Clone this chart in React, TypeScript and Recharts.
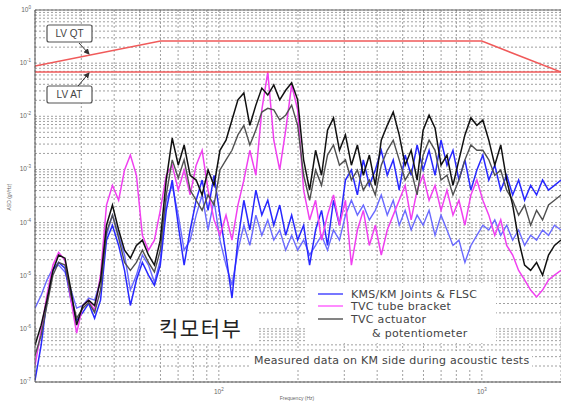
import React from "react";
import { LineChart, Line, XAxis, YAxis, CartesianGrid, ReferenceLine } from "recharts";

// Frequency grid (Hz)
const freqHz = [
  20, 21.1, 22.2, 23.4, 24.6, 26, 27.4, 28.8, 30.4, 32,
  33.7, 35.5, 37.4, 39.4, 41.6, 43.8, 46.1, 48.6, 51.2, 54,
  56.9, 59.9, 63.1, 66.5, 70.1, 73.8, 77.8, 82, 86.4, 91,
  95.9, 101, 106.5, 112.2, 118.2, 124.5, 131.2, 138.3, 145.7, 153.5,
  161.8, 170.4, 179.6, 189.2, 199.4, 210.1, 221.4, 233.3, 245.8, 259,
  272.9, 287.5, 303, 319.2, 336.4, 354.4, 373.5, 393.5, 414.6, 436.9,
  460.4, 485.1, 511.1, 538.6, 567.5, 598, 630.1, 663.9, 699.6, 737.1,
  776.7, 818.4, 862.4, 908.7, 957.5, 1009, 1063, 1120, 1180, 1243,
  1310, 1380, 1454, 1533, 1615, 1702, 1793, 1889, 2000,
];

// log10 of ASD (g^2/Hz)
const kmsJointsA = [
  -6.97, -6.31, -5.46, -4.9, -4.75, -4.86, -5.46, -5.84, -5.69, -5.52,
  -5.8, -5.46, -4.33, -4.05, -4.43, -4.9, -5.56, -5.08, -4.75, -4.99,
  -5.18, -4.8, -3.77, -3.2, -4.05, -4.8, -4.14, -3.58, -3.2, -3.77,
  -3.11, -3.86, -4.61, -5.42, -4.33, -3.58, -4.14, -3.39, -3.86, -3.58,
  -4.05, -3.67, -4.24, -3.86, -4.33, -4.05, -4.8, -4.14, -3.77, -4.43,
  -3.58, -4.05, -3.2, -3.01, -3.48, -2.82, -3.3, -3.01, -2.64, -3.11,
  -2.82, -3.39, -2.73, -3.11, -2.54, -3.01, -2.64, -3.11, -2.45, -2.92,
  -2.64, -3.2, -2.82, -3.39, -3.01, -2.73, -3.2, -2.92, -3.39, -3.11,
  -3.48, -3.2, -3.58, -3.3, -3.48, -3.2, -3.39, -3.3, -3.2,
];
const kmsJointsB = [
  -5.61, -5.37, -5.08, -4.86, -4.8, -4.93, -5.27, -5.61, -5.56, -5.42,
  -5.46, -5.08, -4.24, -3.86, -4.24, -4.61, -5.27, -4.99, -4.61, -4.8,
  -5.12, -4.71, -3.58, -3.3, -3.86, -4.52, -4.33, -3.86, -3.48, -4.14,
  -3.58, -4.33, -4.8, -5.18, -4.52, -4.05, -4.43, -3.86, -4.24, -3.95,
  -4.33, -4.14, -4.52, -4.24, -4.52, -4.33, -4.61, -4.43, -4.24, -4.52,
  -4.14, -4.33, -3.86, -3.58, -3.86, -3.67, -3.95, -3.77, -3.48, -3.86,
  -3.58, -4.05, -3.77, -4.14, -3.86, -4.05, -3.77, -4.24, -3.86, -4.14,
  -4.43, -4.33, -4.75, -4.43, -4.24, -4.05, -4.14, -3.95, -4.24, -4.05,
  -4.33, -4.14, -4.43, -4.24, -4.33, -4.14, -4.24, -4.05, -4.14,
];
const tvcBracket = [
  -6.69, -6.03, -5.37, -4.8, -4.56, -4.71, -5.46, -6.08, -5.56, -5.46,
  -5.65, -4.99, -3.67, -3.3, -3.58, -3.01, -2.73, -3.11, -4.24, -4.52,
  -4.33, -3.77, -3.11, -2.92, -3.39, -3.01, -3.48, -2.92, -2.64, -3.39,
  -3.95, -4.24, -3.86, -4.33, -3.67, -3.2, -2.64, -3.11, -1.88, -1.17,
  -2.45, -3.01, -2.26, -1.41, -1.88, -3.39, -3.95, -3.58, -4.33, -3.86,
  -3.48, -4.05, -3.58, -4.8, -4.14, -3.77, -4.43, -4.05, -4.61, -4.14,
  -3.86, -3.58, -3.3, -3.95, -3.39, -3.11, -3.58, -3.3, -3.77, -3.39,
  -3.86, -3.58, -4.05, -3.48, -3.2, -3.58, -3.86, -4.24, -3.95, -4.43,
  -4.61, -4.9, -5.08, -5.27, -5.4, -5.27, -5.08, -4.99, -4.9,
];
const tvcActuatorA = [
  -6.31, -5.93, -5.46, -4.9, -4.61, -4.67, -5.27, -5.93, -5.56, -5.46,
  -5.56, -5.08, -4.05, -3.67, -4.14, -4.52, -4.67, -4.43, -4.33, -4.61,
  -4.8, -4.33, -3.2, -2.41, -2.92, -2.54, -3.11, -3.2, -3.48, -3.01,
  -3.3, -2.64, -2.45, -2.07, -1.69, -1.56, -2.17, -1.79, -1.47, -1.6,
  -1.41, -1.69, -1.51, -1.37, -1.69, -2.82, -3.39, -2.64, -3.11, -2.26,
  -2.03, -2.64, -2.35, -2.92, -2.54, -3.11, -2.73, -3.3, -2.45, -2.17,
  -1.92, -2.35, -2.92, -2.64, -3.2, -2.26, -1.98, -2.22, -2.92, -2.73,
  -3.3, -2.82, -2.35, -2.03, -2.17, -2.07, -2.45, -2.92, -2.54, -3.2,
  -3.67, -4.33, -4.8, -4.9, -4.75, -4.99, -4.61, -4.43, -4.33,
];
const tvcActuatorB = [
  -6.5, -6.12, -5.56, -4.99, -4.75, -4.8, -5.37, -5.8, -5.61, -5.5,
  -5.69, -5.27, -4.18, -3.86, -4.29, -4.75, -4.9, -4.75, -4.52, -4.75,
  -4.93, -4.52, -3.48, -2.82, -3.16, -2.82, -3.39, -3.58, -3.77, -3.48,
  -3.67, -3.01, -2.82, -2.64, -2.35, -2.17, -2.54, -2.26, -1.92, -1.85,
  -1.88, -2.07, -1.98, -1.79, -2.17, -3.11, -3.58, -3.01, -3.3, -2.73,
  -2.54, -2.92, -2.82, -3.2, -3.01, -3.39, -3.2, -3.48, -2.92, -2.64,
  -2.45, -2.82, -3.2, -3.01, -3.48, -2.73, -2.45, -2.64, -3.2, -3.11,
  -3.48, -3.2, -2.82, -2.54, -2.64, -2.64, -2.82, -3.11, -3.01, -3.39,
  -3.58, -3.86, -3.67, -4.05, -3.77, -3.95, -3.67, -3.58, -3.48,
];

// Launch-vehicle levels (g^2/Hz)
const lvQtFreq = [20, 60, 1000, 2000];
const lvQtLevel = [0.088, 0.26, 0.26, 0.068];
const lvAtFreq = [20, 2000];
const lvAtLevel = [0.068, 0.068];

// Axis decades
const yDecades = [-7, -6, -5, -4, -3, -2, -1, 0];
const xDecadeBases = [10, 100, 1000];
const xLabelledTicks = [100, 1000];

const rows = freqHz.map((f, i) => ({
  f,
  b1: Math.pow(10, kmsJointsA[i]),
  b2: Math.pow(10, kmsJointsB[i]),
  p1: Math.pow(10, tvcBracket[i]),
  k1: Math.pow(10, tvcActuatorA[i]),
  k2: Math.pow(10, tvcActuatorB[i]),
}));
const lvQt = lvQtFreq.map((f, i) => ({ f, v: lvQtLevel[i] }));
const lvAt = lvAtFreq.map((f, i) => ({ f, v: lvAtLevel[i] }));

const yTicks: number[] = [];
yDecades.forEach((e) => {
  if (e === 0) { yTicks.push(1); return; }
  for (let m = 1; m <= 9; m++) yTicks.push(parseFloat((m * Math.pow(10, e)).toPrecision(3)));
});
const xTicks: number[] = [];
xDecadeBases.forEach((d) => {
  for (let m = 1; m <= 9; m++) {
    const v = m * d;
    if (v >= 20 && v <= 2000) xTicks.push(v);
  }
});

const isDecade = (v: number) => Math.abs(Math.log10(v) - Math.round(Math.log10(v))) < 1e-6;

const YTick = (props: any) => {
  const { x, y, payload } = props;
  const v = payload.value;
  if (!isDecade(v)) return <g />;
  const e = Math.round(Math.log10(v));
  return (
    <text x={x} y={y + 2} textAnchor="end" fontSize={6.5} fill="#666" fontFamily="Liberation Sans, Arial, sans-serif">
      10<tspan dy={-3} fontSize={4.5}>{e}</tspan>
    </text>
  );
};
const XTick = (props: any) => {
  const { x, y, payload } = props;
  const v = payload.value;
  if (!xLabelledTicks.includes(v)) return <g />;
  const e = Math.round(Math.log10(v));
  return (
    <text x={x} y={y + 6} textAnchor="middle" fontSize={6.5} fill="#666" fontFamily="Liberation Sans, Arial, sans-serif">
      10<tspan dy={-3} fontSize={4.5}>{e}</tspan>
    </text>
  );
};

const font = "Liberation Sans, Arial, sans-serif";
const wide = "DejaVu Sans, Verdana, sans-serif";

export default function App() {
  return (
    <div style={{ position: "absolute", left: 0, top: 0, width: 561, height: 403, background: "#fff" }}>
      <LineChart width={561} height={403} data={rows} margin={{ top: 10, right: 0, left: 10, bottom: 6 }}>
        <CartesianGrid stroke="#808080" strokeDasharray="2 2" strokeWidth={0.75} />
        <XAxis
          dataKey="f"
          type="number"
          scale="log"
          domain={[20, 2000]}
          ticks={xTicks}
          allowDataOverflow
          height={15}
          tickLine={false}
          tickSize={0}
          tickMargin={6}
          tick={<XTick />}
          stroke="#555"
          interval={0}
        />
        <YAxis
          type="number"
          scale="log"
          domain={[1e-7, 1]}
          ticks={yTicks}
          allowDataOverflow
          width={25}
          tickLine={false}
          tickSize={0}
          tickMargin={4}
          tick={<YTick />}
          stroke="#555"
          interval={0}
        />
        <ReferenceLine y={1} stroke="#666" strokeWidth={1} />
        <Line dataKey="b2" stroke="#6a6aff" strokeWidth={1.4} dot={false} isAnimationActive={false} />
        <Line dataKey="b1" stroke="#2828ff" strokeWidth={1.5} dot={false} isAnimationActive={false} />
        <Line dataKey="p1" stroke="#f040f0" strokeWidth={1.5} dot={false} isAnimationActive={false} />
        <Line dataKey="k2" stroke="#505050" strokeWidth={1.4} dot={false} isAnimationActive={false} />
        <Line dataKey="k1" stroke="#111111" strokeWidth={1.5} dot={false} isAnimationActive={false} />
        <Line data={lvQt} dataKey="v" stroke="#f05a5a" strokeWidth={1.5} dot={false} isAnimationActive={false} />
        <Line data={lvAt} dataKey="v" stroke="#f05a5a" strokeWidth={1.5} dot={false} isAnimationActive={false} />
      </LineChart>
      <svg width={561} height={403} style={{ position: "absolute", left: 0, top: 0, pointerEvents: "none" }}>
        <defs>
          <marker id="ah" markerWidth="6" markerHeight="6" refX="5" refY="3" orient="auto">
            <path d="M0,0 L6,3 L0,6 Z" fill="#333" />
          </marker>
        </defs>
        {/* LV QT */}
        <rect x={47} y={25} width={45} height={17} rx={2} fill="#fff" stroke="#555" strokeWidth={1.2} />
        <text x={69.5} y={37} textAnchor="middle" fontSize={10} fill="#444" fontFamily={font}>LV QT</text>
        <line x1={79} y1={43} x2={89} y2={54} stroke="#333" strokeWidth={1} markerEnd="url(#ah)" />
        {/* LV AT */}
        <rect x={47} y={86} width={45} height={17} rx={2} fill="#fff" stroke="#555" strokeWidth={1.2} />
        <text x={69.5} y={98} textAnchor="middle" fontSize={10} fill="#444" fontFamily={font}>LV AT</text>
        <line x1={78} y1={86} x2={89} y2={73} stroke="#333" strokeWidth={1} markerEnd="url(#ah)" />
        {/* axis titles */}
        <text x={11} y={197} transform="rotate(-90 11 197)" textAnchor="middle" fontSize={5} fill="#666" fontFamily={font}>ASD (g²/Hz)</text>
        <text x={297} y={400} textAnchor="middle" fontSize={5} fill="#666" fontFamily={font}>Frequency (Hz)</text>
        {/* Korean label */}
        <rect x={147} y={306} width={111} height={38} fill="#fff" />
        <text x={159} y={336} fontSize={21} fill="#222" letterSpacing={1.5} fontFamily="Noto Sans CJK KR, sans-serif">킥모터부</text>
        {/* legend */}
        <rect x={306} y={283} width={190} height={60} fill="#fff" />
        <line x1={318} y1={294} x2={343} y2={294} stroke="#4a4aff" strokeWidth={1.5} />
        <line x1={318} y1={306} x2={343} y2={306} stroke="#ff66ff" strokeWidth={1.5} />
        <line x1={318} y1={319} x2={343} y2={319} stroke="#333" strokeWidth={1.2} />
        <text x={351} y={297.5} fontSize={11} letterSpacing={0.3} fill="#444" fontFamily={wide}>KMS/KM Joints &amp; FLSC</text>
        <text x={351} y={310} fontSize={11} letterSpacing={0.3} fill="#444" fontFamily={wide}>TVC tube bracket</text>
        <text x={351} y={323} fontSize={11} letterSpacing={0.3} fill="#444" fontFamily={wide}>TVC actuator</text>
        <text x={372} y={337} fontSize={11} letterSpacing={0.3} fill="#444" fontFamily={wide}>&amp; potentiometer</text>
        {/* measured note */}
        <rect x={249} y={351} width={283} height={19} fill="#fff" />
        <text x={254} y={364} fontSize={11} letterSpacing={0.25} fill="#444" fontFamily={wide}>Measured data on KM side during acoustic tests</text>
      </svg>
    </div>
  );
}
